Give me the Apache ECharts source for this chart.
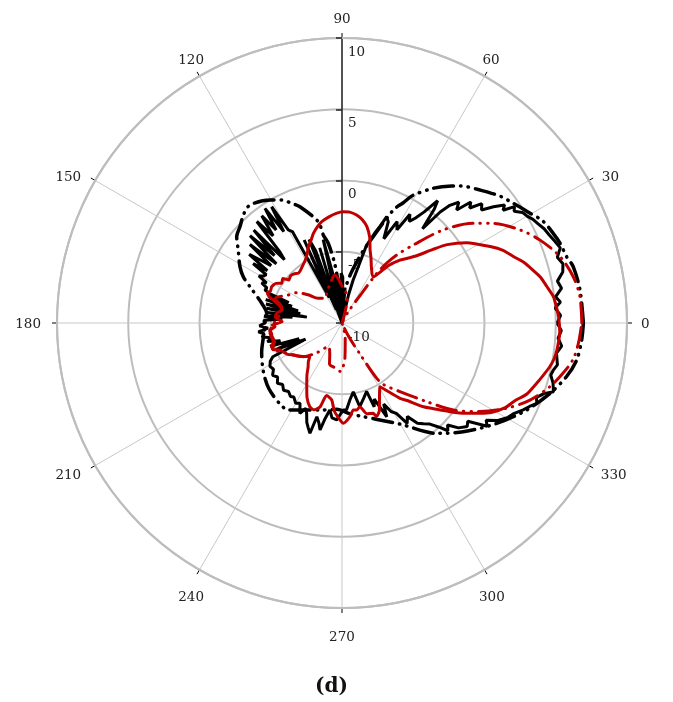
<!DOCTYPE html>
<html><head><meta charset="utf-8">
<script src="https://cdn.jsdelivr.net/npm/echarts@6/dist/echarts.min.js"></script>
<style>html,body{margin:0;padding:0;background:#fff}#c{width:673px;height:702px}</style>
</head><body><div id="c"></div>
<script>
// ---- axis definitions ----
const angleMin = 0, angleMax = 360, angleStep = 30;
const radiusMin = -10, radiusMax = 10, radiusStep = 5;
const panelLabel = '(d)';

// ---- black solid ----
const blackSolidAngles = [0,2,4,5.5,7,9,11,13,15,17,19,21,23,25,27,28.5,30,31.5,33,34,35,36,37.5,39,40.5,42,43.2,44.6,46,47.5,48.5,49.5,51,52,53.5,55,56.5,58,59.5,61.5,63.6,65.4,67.2,68.5,70,71.4,72.5,74,75.5,77,79,81,83,85,87,89,91,93,95,97,99,100.5,102.7,104.5,106.5,108.5,110,111.5,113,114.5,116.5,118.5,120,121.2,122.5,123.9,125.3,126.8,128.3,130,131.2,132.3,133.5,135,136.5,138,139.5,141,142.3,143.5,145,146.3,147.5,149,150.5,152,153.5,155,156.8,158,159,160,161.5,163,164.5,166,167.5,169,170.5,172,173.5,175,176.5,178,180,182,184,186,188,190,192,194,196,198,200,202,204,206,208,211,214,217,220,223,226,229,232,235,237,240,242.4,245,247,248.6,250.5,252,253.8,255,257,258.4,260,262,264,266.9,269,271,273,276,279.3,282,286,289.8,291,293,295.5,297.2,299,301,303,305,307,309,311,313,314.5,316,318,320.4,322,324.6,326,328,330.4,332,334.4,336,337.6,339,340.7,342,344.1,346,347.5,349,352,354,356,358,360];
const blackSolidValues = [5.1,5.35,5.0,5.4,5.1,5.6,5.4,5.9,6.05,5.8,6.2,6.0,5.8,5.65,5.4,5.25,5.0,4.85,4.4,4.6,3.8,4.1,3.4,2.6,2.9,2.06,2.4,1.3,1.8,1.2,0.4,-1.3,0.3,0.9,-0.3,-1.0,-1.45,-1.0,-2.4,-1.9,-3.4,-2.2,-1.9,-2.7,-3.3,-3.9,-4.3,-6.0,-6.9,-8.0,-10,-8.5,-10,-7.5,-9.5,-6.8,-6.5,-10,-7.5,-6.5,-10,-6.5,-4.0,-9.5,-4.5,-10,-4.6,-3.7,-9.0,-3.6,-8.0,-2.7,-2.46,-0.46,-2.4,-0.31,-2.0,-0.6,-2.2,-0.7,-3.4,-4.0,-1.0,-3.3,-1.1,-3.8,-1.5,-3.6,-2.8,-1.9,-3.6,-2.5,-3.7,-3.6,-3.3,-4.0,-3.7,-4.2,-4.1,-4.6,-6.0,-4.5,-6.3,-4.4,-6.8,-4.5,-7.0,-4.6,-7.5,-4.7,-6.5,-4.5,-5.8,-4.5,-4.6,-4.2,-4.8,-4.1,-4.5,-4.3,-5.0,-4.6,-5.5,-4.7,-6.8,-5.0,-7.2,-4.6,-4.3,-4.1,-4.2,-3.9,-4.1,-3.8,-4.0,-3.75,-3.9,-3.7,-3.8,-3.5,-3.64,-3.0,-3.5,-3.2,-2.6,-2.3,-1.94,-3.19,-2.8,-2.34,-3.2,-3.84,-3.3,-3.19,-3.6,-3.9,-3.9,-4.6,-5.1,-4.0,-4.5,-4.9,-3.7,-4.2,-2.7,-3.6,-2.9,-2.6,-1.6,-2.0,-1.2,-0.9,-0.6,0.0,0.6,0.3,1.0,1.4,1.2,2.5,2.2,2.9,3.4,3.6,4.1,4.4,4.8,4.6,5.0,5.6,5.4,5.1,5.2,5.4,5.2,5.5,5.2,5.4,5.1];

// ---- black dash-dot ----
const blackDashAngles = [0,7.9,13.7,16.4,20.1,23,27,30.3,34.9,38.8,40.9,43.6,49.3,51.3,55.9,61.1,63,65.6,72.9,75.5,80,86,90,94,97,99.8,102,103.2,109.9,112.8,116.1,120.3,127.9,132,136.6,140.7,144.9,151.1,154.9,158.5,166.2,172.7,180,190,200,212,222,232.6,238.3,245.1,255.8,266.5,275,282,290,300,310.6,318.1,327,334.8,341.3,346.6,351,355.9,360];
const blackDashValues = [6.94,6.86,6.7,6.44,6.29,6.1,5.8,5.28,4.67,4.22,3.9,3.5,2.69,2.32,1.42,0.2,-0.53,-1.29,-4.5,-5.3,-6.5,-7.7,-8.0,-7.6,-5.8,-4.32,-3.68,-2.7,-1.32,-0.89,-0.39,0.0,0.5,0.3,-0.15,-0.45,-1.1,-1.82,-2.35,-3.06,-4.2,-4.67,-4.6,-4.4,-4.0,-3.5,-3.1,-2.84,-2.83,-3.27,-3.7,-3.93,-3.6,-3.3,-2.8,-1.8,0.2,1.43,2.94,4.33,5.41,6.2,6.67,6.86,6.94];

// ---- red solid ----
const redSolidAngles = [0,1.7,4,7.1,10.1,13,15.5,18.2,21.2,24.3,27.3,32.8,36.7,39,42.2,45,47.4,51,56,62,66,69,72,75.6,79,82.3,86,89.3,93,97,101.3,104,107.7,110.5,113.8,117,120.4,124,128.4,131.3,134,137.4,141,143,146.6,149,152.7,156,158,160.4,161.5,164.9,167.8,171,174.6,175.9,178.8,181.6,183,186,188.3,191,195.6,198,201,203.5,206,210,213.3,218,223.7,226.5,229,232.4,236,241,245,249,252,255.3,258,262.4,265,268.8,270.7,274.9,277.4,279.6,282,285.3,289,290.3,293,296,300.8,304,307.6,310,314.2,316.9,320.6,324.1,326.8,329,332.6,335.8,339,342.8,345.5,348.1,350.5,352.8,355,357.3,360];
const redSolidValues = [5.25,5.2,5.1,4.95,4.6,4.3,3.9,3.5,2.9,2.4,1.7,0.4,-0.8,-1.8,-3.0,-3.6,-4.0,-4.8,-6.1,-5.6,-5.0,-4.5,-3.7,-3.0,-2.6,-2.35,-2.2,-2.2,-2.3,-2.5,-2.75,-3.0,-3.4,-3.8,-4.15,-4.6,-4.9,-5.1,-5.3,-5.35,-5.2,-5.1,-5.2,-4.8,-4.93,-4.6,-4.45,-4.5,-4.35,-4.6,-4.9,-5.5,-5.7,-5.4,-5.3,-5.4,-5.8,-5.1,-5.3,-4.9,-5.0,-5.0,-5.1,-4.8,-4.8,-5.25,-5.4,-5.6,-5.9,-6.2,-6.6,-6.7,-6.4,-6.1,-5.6,-4.9,-4.2,-3.7,-3.6,-3.9,-4.8,-4.55,-3.8,-3.2,-2.96,-3.4,-3.85,-3.8,-4.0,-3.4,-3.3,-3.0,-3.3,-4.0,-4.8,-4.2,-3.33,-2.9,-1.8,-1.2,-0.2,0.8,1.57,2.2,2.9,3.3,3.9,4.3,4.6,4.9,5.1,5.2,5.25,5.3,5.25];

// ---- red dash-dot ----
const redDashAngles = [0,6.3,11.3,16.9,22.7,27.6,33.4,37.2,42.6,47.6,51.2,53.2,55,56.5,60.9,64,70,75,77.8,84.8,90,98.3,108,117,124.5,133.9,140.3,146,152.5,160,165,175,182,188,196,201,206,213,221,230,240,249,253,262,268,275,283,290,296,300,302,304,310.2,317.1,322,327.3,332.6,337.7,343,347.2,350.9,355.1,360];
const redDashValues = [6.83,6.8,6.55,6.0,5.07,4.1,2.7,1.57,-0.35,-2.6,-3.9,-4.76,-5.75,-7.5,-9.1,-10,-10,-9.0,-8.2,-7.7,-7.4,-6.6,-7.2,-7.65,-7.9,-7.6,-6.9,-6.2,-5.75,-5.0,-5.6,-5.5,-5.1,-4.9,-5.0,-4.8,-5.4,-5.9,-6.4,-7.3,-8.1,-7.6,-7.0,-6.8,-6.6,-7.6,-9.0,-10,-9.0,-7.5,-5.5,-4.8,-3.7,-1.9,-0.08,1.5,3.0,4.26,5.26,5.9,6.4,6.65,6.83];

const FONT = 'DejaVu Serif, Liberation Serif, serif';
function pairs(angles, values) { return angles.map((a, i) => [values[i], a]); }

// per-label nudges (padding [top, right, bottom, left]) to place angle labels like the reference
const labelPad = {
  0: [3, 0, 0, 29], 30: [0, 0, 4, 26], 60: [0, 0, 21.5, 5.5], 90: [0, 0, 26.5, 0],
  120: [0, 3, 21.5, 0], 150: [0, 27, 4, 0], 180: [3, 31, 0, 0], 210: [10, 27, 0, 0],
  240: [34, 3, 0, 0], 270: [37, 0, 0, 0], 300: [34, 0, 0, 2], 330: [10, 0, 0, 25]
};
const rich = {};
Object.keys(labelPad).forEach(k => {
  rich['a' + k] = {padding: labelPad[k], fontFamily: FONT, fontSize: 13.5, color: '#222'};
});

const chart = echarts.init(document.getElementById('c'), null, {renderer: 'canvas'});
const dashDot = [20, 7, 0.5, 7, 0.5, 7];
chart.setOption({
  animation: false,
  backgroundColor: '#fff',
  title: {text: panelLabel, left: 310, top: 672,
    textStyle: {fontFamily: FONT, fontWeight: 'bold', fontSize: 20, color: '#111'}},
  polar: [{center: [342, 323], radius: 285}, {center: [342, 323], radius: 285}],
  angleAxis: [{
    polarIndex: 0, type: 'value', min: angleMin, max: angleMax, interval: angleStep,
    startAngle: 0, clockwise: false,
    axisLine: {show: true, lineStyle: {color: '#bdbdbd', width: 2}},
    axisTick: {show: true, length: 5, lineStyle: {color: '#000', width: 1}},
    axisLabel: {show: true, margin: -15, color: '#222', fontFamily: FONT, fontSize: 13.5,
      formatter: v => (v >= 360 ? '' : '{a' + v + '|' + v + '}'), rich: rich},
    splitLine: {show: true, lineStyle: {color: '#c8c8c8', width: 1}}
  }, {
    polarIndex: 1, type: 'value', min: angleMin, max: angleMax, startAngle: 90, clockwise: false,
    axisLine: {show: false}, axisTick: {show: false}, axisLabel: {show: false}, splitLine: {show: false}
  }],
  radiusAxis: [{
    polarIndex: 0, type: 'value', min: radiusMin, max: radiusMax, interval: radiusStep,
    axisLine: {show: false}, axisTick: {show: false}, axisLabel: {show: false},
    splitLine: {show: true, lineStyle: {color: '#bdbdbd', width: 2}}
  }, {
    polarIndex: 1, type: 'value', min: radiusMin, max: radiusMax, interval: radiusStep,
    axisLine: {show: true, lineStyle: {color: '#222', width: 1.5}},
    axisTick: {show: true, length: 6, lineStyle: {color: '#222', width: 1.5}},
    axisLabel: {show: true, color: '#222', fontFamily: FONT, fontSize: 13.5, margin: 6,
      align: 'left', verticalAlign: 'top', padding: [7, 0, 0, 12],
      formatter: v => String(v)},
    splitLine: {show: false}
  }],
  series: [
    {type: 'line', coordinateSystem: 'polar', polarIndex: 0, data: pairs(blackDashAngles, blackDashValues),
      showSymbol: false, smooth: 0.3, lineStyle: {color: '#000', width: 3.5, type: dashDot, cap: 'round'}},
    {type: 'line', coordinateSystem: 'polar', polarIndex: 0, data: pairs(blackSolidAngles, blackSolidValues),
      showSymbol: false, lineStyle: {color: '#000', width: 3}},
    {type: 'line', coordinateSystem: 'polar', polarIndex: 0, data: pairs(redDashAngles, redDashValues),
      showSymbol: false, smooth: 0.3, lineStyle: {color: '#c00000', width: 3, type: dashDot, cap: 'round'}},
    {type: 'line', coordinateSystem: 'polar', polarIndex: 0, data: pairs(redSolidAngles, redSolidValues),
      showSymbol: false, smooth: 0.2, lineStyle: {color: '#c00000', width: 3}}
  ]
});
</script></body></html>
